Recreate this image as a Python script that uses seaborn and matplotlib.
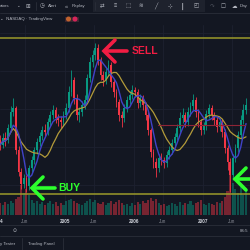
import matplotlib
matplotlib.use('Agg')
import matplotlib.pyplot as plt
import matplotlib.dates as mdates
import matplotlib.transforms as mtrans
import numpy as np
import pandas as pd
import seaborn as sns

# ---------------- data (2-week candles) ----------------
start_date = '2004-01-22'
first_open = 80
close = [75, 82, 80, 92, 108, 112, 70, 48, 36, 42,
         34, 52, 60, 70, 78, 84, 90, 88, 98, 105,
         110, 102, 100, 98, 105, 112, 128, 140, 122, 105,
         108, 115, 120, 142, 158, 165, 172, 160, 145, 140,
         148, 155, 138, 128, 118, 105, 102, 112, 120, 125,
         130, 128, 117, 122, 115, 105, 90, 68, 58, 52,
         62, 60, 57, 65, 70, 77, 83, 92, 102, 105,
         98, 108, 114, 120, 108, 98, 90, 94, 106, 112,
         105, 100, 93, 98, 88, 72, 58, 45, 62, 72,
         85, 100, 110, 115]
high = [85, 87, 88, 96, 114, 122, 114, 74, 52, 46,
        45, 55, 64, 73, 82, 88, 94, 96, 102, 109,
        115, 113, 106, 104, 109, 117, 134, 150, 143, 126,
        113, 119, 125, 146, 163, 170, 177, 176, 163, 149,
        152, 160, 158, 141, 131, 121, 109, 116, 124, 129,
        135, 133, 131, 126, 125, 118, 108, 92, 71, 62,
        66, 67, 63, 69, 74, 81, 87, 96, 108, 112,
        108, 113, 118, 126, 123, 111, 101, 98, 110, 116,
        115, 108, 103, 102, 101, 91, 75, 62, 66, 76,
        89, 105, 116, 122]
low = [70, 72, 74, 77, 89, 104, 66, 44, 31, 32,
       28, 30, 48, 56, 66, 74, 80, 84, 85, 94,
       101, 97, 94, 92, 94, 101, 108, 124, 116, 100,
       98, 104, 111, 117, 138, 153, 160, 155, 140, 134,
       136, 144, 133, 123, 113, 99, 93, 98, 108, 116,
       121, 123, 112, 113, 110, 100, 85, 63, 52, 43,
       48, 55, 52, 53, 61, 66, 73, 80, 88, 97,
       93, 94, 104, 110, 103, 93, 85, 86, 90, 102,
       100, 95, 88, 89, 83, 67, 50, 28, 40, 58,
       68, 81, 96, 106]
volume = [12, 10, 13, 11, 14, 12, 16, 18, 30, 22,
          26, 20, 15, 12, 14, 11, 13, 10, 12, 14,
          11, 13, 9, 12, 10, 14, 15, 16, 14, 12,
          11, 10, 12, 14, 16, 13, 15, 12, 11, 13,
          10, 12, 14, 11, 13, 15, 12, 10, 11, 9,
          12, 10, 13, 11, 14, 12, 15, 17, 14, 16,
          12, 10, 11, 9, 10, 12, 11, 9, 13, 10,
          12, 11, 14, 10, 12, 13, 15, 11, 10, 12,
          11, 10, 13, 12, 14, 18, 24, 44, 32, 26,
          22, 28, 20, 24]

tick_dates = ['2004-01-23', '2004-06-01', '2005-01-01', '2005-06-01',
              '2006-01-01', '2006-06-01', '2007-01-01', '2007-06-01']
tick_labels = ['4', 'Jun', '2005', 'Jun', '2006', 'Jun', '2007', 'Jun']
grid_dates = ['2004-06-01', '2005-01-01', '2005-06-01',
              '2006-01-01', '2006-06-01', '2007-01-01', '2007-06-01']
top_level = 182
bottom_level = 26
resist_level = 95
resist_span = ['2006-05-08', '2007-08-10']
x_span = ['2004-01-22', '2007-09-06']
price_span = [5, 195]

# ---------------- styling ----------------
BG = '#131722'
GRID = '#1d2130'
UP = '#089981'
DOWN = '#f23645'
TXT = '#b2b5be'

sns.set_theme(style='dark')
plt.rcParams['font.family'] = ['Liberation Sans', 'DejaVu Sans']

df = pd.DataFrame({
    'date': pd.date_range(start_date, periods=len(close), freq='14D'),
    'close': close, 'high': high, 'low': low, 'volume': volume,
})
df['open'] = df['close'].shift(1).fillna(first_open)
df['x'] = mdates.date2num(df['date'])
df['up'] = df['close'] >= df['open']
df['ma_fast'] = df['close'].rolling(5, min_periods=1).mean()
df['ma_slow'] = df['close'].rolling(12, min_periods=1).mean()
colors = np.where(df['up'], UP, DOWN)

fig = plt.figure(figsize=(2.5, 2.5), dpi=100, facecolor=BG)
W, H = 250.0, 250.0
rect = [0, 35 / H, 1, 190 / H]

xlim = mdates.date2num(pd.to_datetime(x_span))

# volume axes (behind)
axv = fig.add_axes(rect, zorder=1)
axv.set_facecolor(BG)
axv.bar(df['x'], df['volume'], width=11, color=colors, alpha=0.45, linewidth=0)
axv.set_ylim(0, 190)
axv.set_xlim(*xlim)
for tx in mdates.date2num(pd.to_datetime(grid_dates)):
    axv.axvline(tx, color=GRID, lw=0.6, zorder=0)
for lvl in [30, 68, 106, 144, 182]:
    axv.axhline(lvl, color=GRID, lw=0.6, zorder=0)
axv.axis('off')

# price axes
ax = fig.add_axes(rect, zorder=2)
ax.patch.set_alpha(0)
ax.vlines(df['x'], df['low'], df['high'], colors=colors, lw=0.6)
body_lo = np.minimum(df['open'], df['close'])
body_h = np.maximum((df['close'] - df['open']).abs(), 0.8)
ax.bar(df['x'], body_h, bottom=body_lo, width=9.5, color=colors, linewidth=0)
sns.lineplot(data=df, x='x', y='ma_slow', ax=ax, color='#b39b3a', lw=0.9)
sns.lineplot(data=df, x='x', y='ma_fast', ax=ax, color='#4043c8', lw=1.0)
ax.axhline(top_level, color='#9c9a2a', lw=1.1)
ax.axhline(bottom_level, color='#9c9a2a', lw=1.1)
rs = mdates.date2num(pd.to_datetime(resist_span))
ax.plot(rs, [resist_level, resist_level], color='#8e2536', lw=0.8)
ax.set_xlim(*xlim)
ax.set_ylim(*price_span)
ax.set_xlabel('')
ax.set_ylabel('')
ax.set_xticks([])
ax.set_yticks([])
for s in ax.spines.values():
    s.set_visible(False)

trans = mtrans.blended_transform_factory(ax.transData, ax.transAxes)
tick_x = mdates.date2num(pd.to_datetime(tick_dates))
for i, (tx, lab) in enumerate(zip(tick_x, tick_labels)):
    year = lab.isdigit()
    ax.text(tx, -0.02, lab, transform=trans, ha='left' if i == 0 else 'center',
            va='top', fontsize=3.3, color='#d1d4dc' if year else '#868993',
            fontweight='bold' if year else 'normal', clip_on=False)

# ---------------- UI overlay (pixel coordinates) ----------------
ui = fig.add_axes([0, 0, 1, 1], zorder=5)
ui.set_xlim(0, W)
ui.set_ylim(H, 0)
ui.axis('off')
ui.patch.set_alpha(0)

# top toolbar
ui.add_patch(plt.Rectangle((93, 0), 112, 12, color='#1e222d', lw=0))
ui.plot([0, 250], [12.5, 12.5], color='#2a2e39', lw=0.6)
fs = 3.2
ui.text(0, 6, 'ators', fontsize=fs, color=TXT, va='center')
ui.text(16, 6, '⌄', fontsize=fs, color=TXT, va='center')
ui.text(25, 6, '⊞', fontsize=4, color=TXT, va='center')
ui.plot([36, 36], [2, 10], color='#2a2e39', lw=0.6)
ui.text(40, 6, '◷', fontsize=4, color=TXT, va='center')
ui.text(48, 6, 'Alert', fontsize=fs, color=TXT, va='center')
ui.text(65, 6, '«', fontsize=4, color=TXT, va='center')
ui.text(72, 6, 'Replay', fontsize=fs, color=TXT, va='center')
ui.plot([95, 95], [2, 10], color='#2a2e39', lw=0.6)
for xi, g in zip([102, 115, 128, 141, 156, 170, 182, 196, 212, 223, 234],
                 ['⇄', '≡', '⬚', '≋', '╱', '⊹', '┃', '◰', '↷', '☐', '☁']):
    ui.text(xi, 6, g, fontsize=4, color=TXT if g != '↷' else '#4a4e59',
            va='center', ha='center')
ui.text(240, 6, 'Day', fontsize=fs, color=TXT, va='center')

# symbol row
ui.text(0, 19, '⌄  NASDAQ · TradingView', fontsize=fs, color=TXT, va='center')
ui.add_patch(plt.Rectangle((65, 16.5), 14, 5, color='#3a2530', lw=0))
ui.add_patch(plt.Circle((68.5, 19), 1.8, color='#c0622d'))
ui.add_patch(plt.Circle((75, 19), 1.8, color='#d6245a'))

# bottom bars
ui.plot([0, 250], [225, 225], color='#2a2e39', lw=0.6)
ui.plot([0, 250], [236, 236], color='#2a2e39', lw=0.6)
ui.text(15, 230.5, '⊙', fontsize=3.5, color=TXT, va='center', ha='center')
ui.text(240, 230.5, '06:5', fontsize=fs, color=TXT, va='center')
ui.text(0, 244, 'y Tester', fontsize=fs, color=TXT, va='center')
ui.plot([22, 22], [238, 250], color='#2a2e39', lw=0.6)
ui.text(28, 244, 'Trading Panel', fontsize=fs, color=TXT, va='center')
ui.plot([63, 63], [238, 250], color='#2a2e39', lw=0.6)

# annotations
RED = '#f21d43'
GREEN = '#2dff2d'
lw_arrow = 2.6
ui.plot([115, 104, 115], [40, 51, 62], color=RED, lw=lw_arrow,
        solid_capstyle='round', solid_joinstyle='miter')
ui.plot([104.5, 127], [51, 51], color=RED, lw=lw_arrow, solid_capstyle='round')
ui.text(132, 51, 'SELL', fontsize=7.5, color=RED, fontweight='bold', va='center')

ui.plot([43, 32, 43], [177, 188, 199], color=GREEN, lw=lw_arrow,
        solid_capstyle='round', solid_joinstyle='miter')
ui.plot([32.5, 55], [188, 188], color=GREEN, lw=lw_arrow, solid_capstyle='round')
ui.text(58, 188, 'BUY', fontsize=7.5, color=GREEN, fontweight='bold', va='center')

ui.plot([246, 235, 246], [168, 179, 190], color=GREEN, lw=lw_arrow,
        solid_capstyle='round', solid_joinstyle='miter')
ui.plot([235.5, 252], [179, 179], color=GREEN, lw=lw_arrow, solid_capstyle='round')

fig.savefig('out.png', dpi=100, facecolor=BG)
